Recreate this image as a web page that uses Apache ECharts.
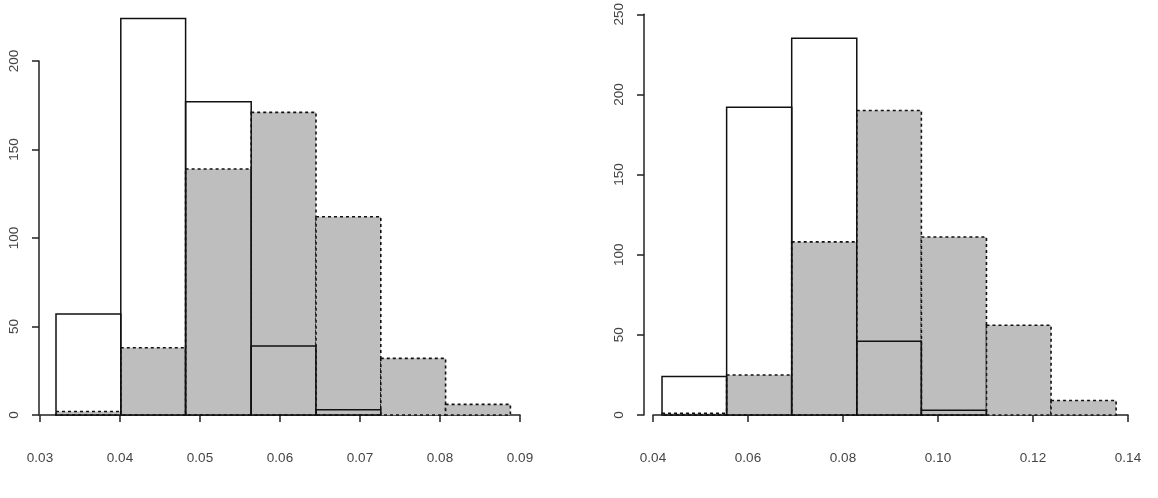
<!DOCTYPE html>
<html>
<head>
<meta charset="utf-8">
<script src="https://cdn.jsdelivr.net/npm/echarts@6/dist/echarts.min.js"></script>
<style>
  html, body { margin: 0; padding: 0; background: #fff; }
  #chart { width: 1158px; height: 498px; }
</style>
</head>
<body>
<div id="chart"></div>
<script>
// left panel: bin edges and counts
const leftBreaks = [0.0320, 0.0401, 0.0482, 0.0564, 0.0645, 0.0726, 0.0807, 0.0888];
const leftSolid = [57, 224, 177, 39, 3];
const leftDashed = [2, 38, 139, 171, 112, 32, 6];

// right panel
const rightBreaks = [0.0419, 0.0555, 0.0692, 0.0829, 0.0965, 0.1102, 0.1238, 0.1375];
const rightSolid = [24, 192, 235, 46, 3];
const rightDashed = [1, 25, 108, 190, 111, 56, 9];

function toBins(breaks, counts) {
  return counts.map((c, i) => [breaks[i], breaks[i + 1], c]);
}

const axisColor = '#222';
const labelStyle = { color: '#444', fontSize: 13.5, fontFamily: 'Liberation Sans, Arial, sans-serif' };

function histSeries(idx, data, dashed) {
  return {
    type: 'custom',
    xAxisIndex: idx,
    yAxisIndex: idx,
    clip: false,
    silent: true,
    data: data,
    encode: { x: [0, 1], y: 2 },
    renderItem: function (params, api) {
      const p0 = api.coord([api.value(0), 0]);
      const p1 = api.coord([api.value(1), api.value(2)]);
      return {
        type: 'rect',
        shape: { x: p0[0], y: p1[1], width: p1[0] - p0[0], height: p0[1] - p1[1] },
        style: dashed
          ? { fill: '#bebebe', stroke: '#111', lineWidth: 1.6, lineDash: [3, 3] }
          : { fill: 'none', stroke: '#111', lineWidth: 1.5 }
      };
    }
  };
}

function xAxis(idx, min, max, interval) {
  return {
    type: 'value', gridIndex: idx, min: min, max: max, interval: interval,
    position: 'bottom', offset: 17,
    axisLine: { show: true, lineStyle: { color: axisColor, width: 1.5 } },
    axisTick: { show: true, length: 7, lineStyle: { color: axisColor, width: 1.5 } },
    axisLabel: Object.assign({ margin: 19, formatter: v => v.toFixed(2) }, labelStyle),
    splitLine: { show: false }
  };
}

function yAxis(idx, max, offset) {
  return {
    type: 'value', gridIndex: idx, min: 0, max: max, interval: 50,
    position: 'left', offset: offset,
    axisLine: { show: true, lineStyle: { color: axisColor, width: 1.5 } },
    axisTick: { show: true, length: 7, lineStyle: { color: axisColor, width: 1.5 } },
    axisLabel: Object.assign({ margin: 18, rotate: 90 }, labelStyle),
    splitLine: { show: false }
  };
}

const chart = echarts.init(document.getElementById('chart'), null, { renderer: 'canvas' });
chart.setOption({
  animation: false,
  backgroundColor: '#fff',
  grid: [
    { left: 40, width: 480, top: 61, height: 354 },
    { left: 653, width: 475, top: 8, height: 407 }
  ],
  xAxis: [xAxis(0, 0.03, 0.09, 0.01), xAxis(1, 0.04, 0.14, 0.02)],
  yAxis: [yAxis(0, 200, 1), yAxis(1, 250, 9)],
  series: [
    histSeries(0, toBins(leftBreaks, leftDashed), true),
    histSeries(0, toBins(leftBreaks, leftSolid), false),
    histSeries(1, toBins(rightBreaks, rightDashed), true),
    histSeries(1, toBins(rightBreaks, rightSolid), false)
  ]
});
window.addEventListener('resize', () => chart.resize());
</script>
</body>
</html>
